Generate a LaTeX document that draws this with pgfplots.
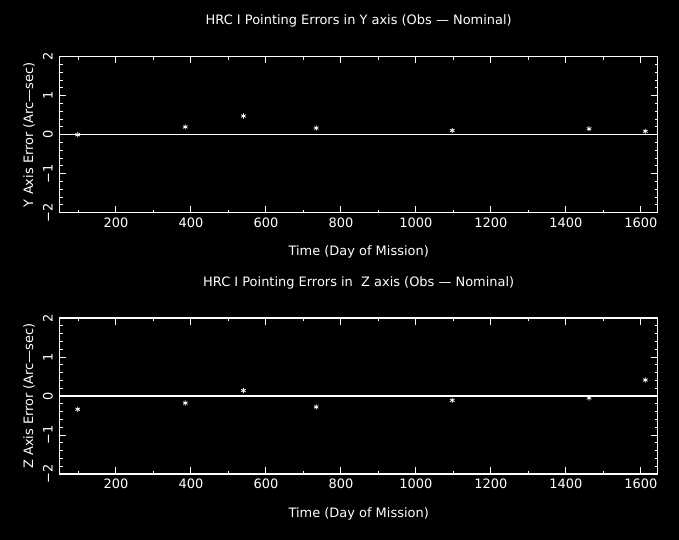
\documentclass[border=0pt]{standalone}
\usepackage{fontspec}
\setmainfont{DejaVu Sans}
\usepackage{pgfplots}
\usepackage{pgfplotstable}
\pgfplotsset{compat=1.18}

\pgfplotstableread{
x y
98 0.00
385 0.20
540 0.48
734 0.17
1097 0.11
1462 0.15
1612 0.09
}\ydata

\pgfplotstableread{
x z
98 -0.34
385 -0.18
540 0.14
734 -0.28
1097 -0.11
1462 -0.05
1612 0.41
}\zdata

\newcommand{\pf}{\fontsize{13}{15}\selectfont}

\pgfplotsset{
  hrc/.style={
    scale only axis, width=598bp, height=156bp,
    anchor=south west,
    xmin=50, xmax=1645, ymin=-2, ymax=2,
    axis line style={white, line width=1.2bp},
    every tick/.style={white, line width=1bp},
    major tick length=6.5bp, minor tick length=3bp,
    tick align=inside, xtick pos=both, ytick pos=both,
    xtick={200,400,...,1600}, minor xtick={100,300,...,1500},
    ytick={-2,-1,0,1,2}, yticklabels={−2,−1,0,1,2},
    minor y tick num=4,
    /pgf/number format/assume math mode=true,
    /pgf/number format/1000 sep={},
    xticklabel style={white, font=\pf, anchor=base},
    xticklabel shift=14.5bp,
    yticklabel style={white, font=\pf, rotate=90, anchor=base},
    yticklabel shift=7bp,
    xlabel style={white, font=\pf, anchor=base, at={(axis description cs:0.5,0)}, yshift=-43bp},
    ylabel style={white, font=\pf, anchor=base, at={([xshift=-26.5bp]axis description cs:0,0.5)}},
    title style={white, font=\pf, anchor=base, at={(axis description cs:0.5,1)}, yshift=26bp},
    xlabel={Time (Day of Mission)},
  },
  pts/.style={only marks, mark=asterisk, mark size=2.6bp, white, line width=0.8bp},
  zl/.style={white, line width=1.4bp, forget plot},
}

\begin{document}
\begin{tikzpicture}
\fill[black] (0,0) rectangle (679bp,540bp);
\begin{axis}[hrc, at={(59.7bp,327.3bp)},
  title={HRC I Pointing Errors in Y axis (Obs — Nominal)},
  ylabel={Y Axis Error (Arc—sec)}]
\addplot[zl] coordinates {(50,0) (1645,0)};
\addplot[pts] table[x=x,y=y] {\ydata};
\end{axis}
\begin{axis}[hrc, at={(59.7bp,66bp)},
  title={HRC I Pointing Errors in \ Z axis (Obs — Nominal)},
  ylabel={Z Axis Error (Arc—sec)}]
\addplot[zl] coordinates {(50,0) (1645,0)};
\addplot[pts] table[x=x,y=z] {\zdata};
\end{axis}
\end{tikzpicture}
\end{document}
